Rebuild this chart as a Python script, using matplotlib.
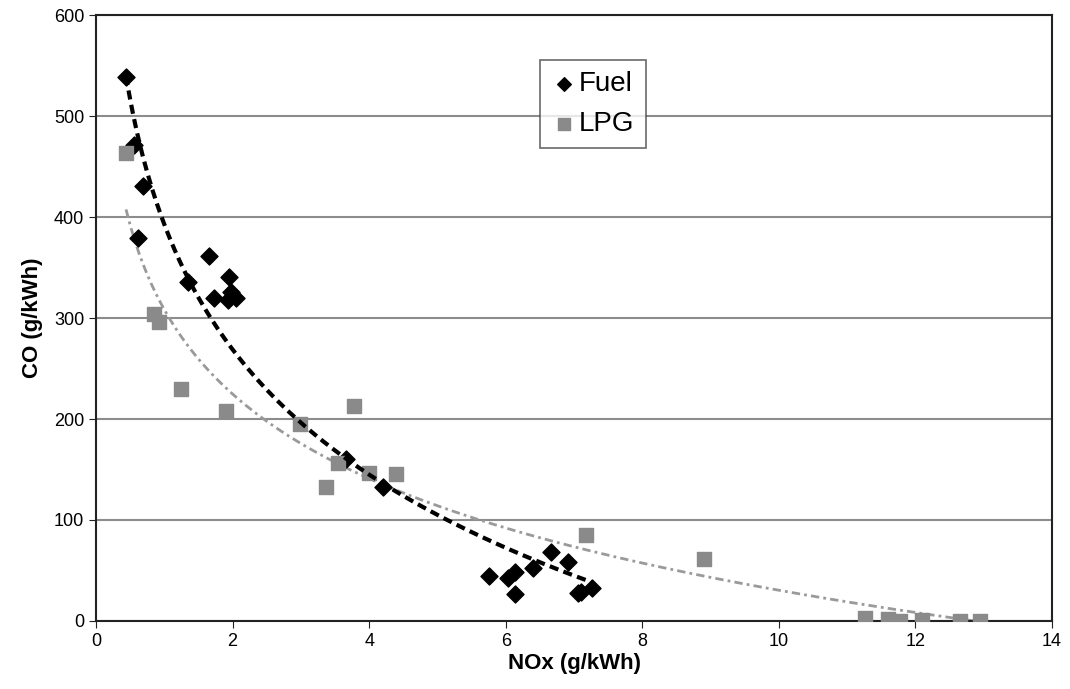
import numpy as np
import matplotlib
matplotlib.use("Agg")
import matplotlib.pyplot as plt

plt.rcParams['font.family'] = ['Liberation Sans', 'DejaVu Sans']

# Fuel (diesel) measurements
fuel_nox = [0.44, 0.56, 0.69, 0.62, 1.65, 1.35, 1.95, 1.73, 1.93, 1.97, 2.05,
            3.66, 4.2, 5.75, 6.03, 6.13, 6.14, 6.4, 6.67, 6.91, 7.06, 7.1, 7.26]
fuel_co = [539, 471, 431, 379, 361, 336, 341, 320, 318, 326, 320,
           160, 133, 45, 43, 49, 27, 52, 68, 58, 28, 29, 33]

# LPG measurements
lpg_nox = [0.44, 0.85, 0.92, 1.24, 1.9, 2.99, 3.78, 3.54, 3.37, 4.0, 4.4,
           7.17, 8.9, 11.26, 11.6, 11.77, 12.09, 12.65, 12.94]
lpg_co = [463, 304, 296, 230, 208, 195, 213, 156, 133, 147, 146,
          85, 61, 3, 2, 0, 1, 0, 0]


def log_trend(x, y):
    x = np.asarray(x, dtype=float)
    b, a = np.polyfit(np.log(x), np.asarray(y, dtype=float), 1)
    xs = np.linspace(x.min(), x.max(), 200)
    return xs, a + b * np.log(xs)


fig = plt.figure(figsize=(10.7, 6.89), dpi=100)
ax = fig.add_axes([0.0897, 0.0987, 0.8935, 0.8795])

ax.set_xlim(0, 14)
ax.set_ylim(0, 600)
ax.set_xticks(range(0, 15, 2))
ax.set_yticks(range(0, 601, 100))
ax.yaxis.grid(True, color='#8c8c8c', linewidth=1.5)
ax.set_axisbelow(True)

ax.scatter(fuel_nox, fuel_co, marker='D', s=75, color='black', zorder=3, label='Fuel')
ax.scatter(lpg_nox, lpg_co, marker='s', s=110, color='#8a8a8a', zorder=3, label='LPG')

xs, ys = log_trend(fuel_nox, fuel_co)
ax.plot(xs, ys, color='black', linewidth=3, dashes=(2.2, 1.3), zorder=4)
xs, ys = log_trend(lpg_nox, lpg_co)
ax.plot(xs, ys, color='#9a9a9a', linewidth=2, dashes=(3, 1.5, 1, 1.5), zorder=2)

for sp in ax.spines.values():
    sp.set_color('#222222')
    sp.set_linewidth(1.5)

ax.tick_params(axis='both', labelsize=13, length=5, color='#222222')
ax.set_xlabel('NOx (g/kWh)', fontsize=16, fontweight='bold', labelpad=2)
ax.set_ylabel('CO (g/kWh)', fontsize=16, fontweight='bold', labelpad=8)

leg = ax.legend(loc='upper left', bbox_to_anchor=(0.4645, 0.926), fontsize=20,
                frameon=True, fancybox=False, edgecolor='#444444',
                handletextpad=0.1, borderpad=0.4, labelspacing=0.5,
                markerscale=0.8, handlelength=0.9, borderaxespad=0)
leg.get_frame().set_linewidth(1.2)

fig.savefig('out.png', dpi=100)
